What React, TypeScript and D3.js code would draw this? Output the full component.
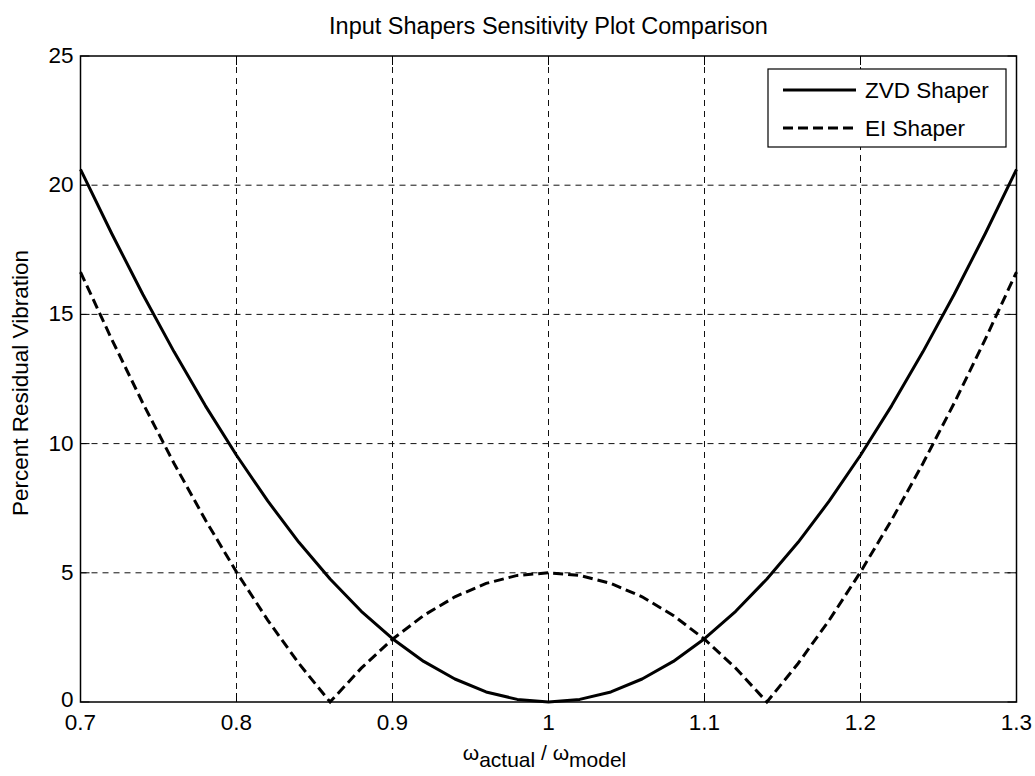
import React from "react";
import * as d3 from "d3";

const ratios = [0.7, 0.72, 0.74, 0.76, 0.78, 0.8, 0.82, 0.84, 0.86, 0.88, 0.9, 0.92, 0.94, 0.96, 0.98, 1.0,
  1.02, 1.04, 1.06, 1.08, 1.1, 1.12, 1.14, 1.16, 1.18, 1.2, 1.22, 1.24, 1.26, 1.28, 1.3];
const zvdValues = [20.61, 18.13, 15.77, 13.55, 11.47, 9.55, 7.78, 6.18, 4.76, 3.51, 2.45, 1.57, 0.89, 0.39, 0.1, 0,
  0.1, 0.39, 0.89, 1.57, 2.45, 3.51, 4.76, 6.18, 7.78, 9.55, 11.47, 13.55, 15.77, 18.13, 20.61];
const eiValues = [16.64, 14.04, 11.56, 9.23, 7.05, 5.03, 3.17, 1.49, 0.0, 1.31, 2.43, 3.35, 4.07, 4.59, 4.9, 5.0,
  4.9, 4.59, 4.07, 3.35, 2.43, 1.31, 0.0, 1.49, 3.17, 5.03, 7.05, 9.23, 11.56, 14.04, 16.64];
const xTicks = [0.7, 0.8, 0.9, 1.0, 1.1, 1.2, 1.3];
const xTickLabels = ["0.7", "0.8", "0.9", "1", "1.1", "1.2", "1.3"];
const yTicks = [0, 5, 10, 15, 20, 25];
const legendLabels = ["ZVD Shaper", "EI Shaper"];
const title = "Input Shapers Sensitivity Plot Comparison";
const yLabel = "Percent Residual Vibration";

export default function App() {
  const W = 1035, H = 776;
  const L = 80.5, R = 1016.5, T = 56, B = 702;
  const x = d3.scaleLinear().domain([0.7, 1.3]).range([L, R]);
  const y = d3.scaleLinear().domain([0, 25]).range([B, T]);
  const line = d3.line<number>().x((_, i) => x(ratios[i])).y((v) => y(v));
  const font = "Arial, 'Liberation Sans', Helvetica, sans-serif";
  const fs = 22.5;
  const tickLen = 9;
  return (
    <svg width={W} height={H} style={{ position: "absolute", left: 0, top: 0, background: "#fff" }} fontFamily={font}>
      <rect x={0} y={0} width={W} height={H} fill="#fff" />
      {/* grid */}
      {xTicks.slice(1, -1).map((t) => (
        <line key={"gx" + t} x1={x(t)} x2={x(t)} y1={T} y2={B} stroke="#111" strokeWidth={1} strokeDasharray="6,5" />
      ))}
      {yTicks.slice(1, -1).map((t) => (
        <line key={"gy" + t} x1={L} x2={R} y1={y(t)} y2={y(t)} stroke="#111" strokeWidth={1} strokeDasharray="6,5" />
      ))}
      {/* ticks */}
      {xTicks.map((t) => (
        <g key={"tx" + t}>
          <line x1={x(t)} x2={x(t)} y1={B} y2={B - tickLen} stroke="#000" />
          <line x1={x(t)} x2={x(t)} y1={T} y2={T + tickLen} stroke="#000" />
        </g>
      ))}
      {yTicks.map((t) => (
        <g key={"ty" + t}>
          <line x1={L} x2={L + tickLen} y1={y(t)} y2={y(t)} stroke="#000" />
          <line x1={R} x2={R - tickLen} y1={y(t)} y2={y(t)} stroke="#000" />
        </g>
      ))}
      {/* curves */}
      <path d={line(zvdValues) || ""} fill="none" stroke="#000" strokeWidth={3} strokeLinejoin="round" />
      <path d={line(eiValues) || ""} fill="none" stroke="#000" strokeWidth={3} strokeDasharray="10,5" />
      {/* border */}
      <rect x={L} y={T} width={R - L} height={B - T} fill="none" stroke="#000" strokeWidth={1.5} />
      {/* tick labels */}
      {xTicks.map((t, i) => (
        <text key={"lx" + t} x={x(t)} y={B + 28} textAnchor="middle" fontSize={fs} fill="#000">{xTickLabels[i]}</text>
      ))}
      {yTicks.map((t) => (
        <text key={"ly" + t} x={L - 7} y={y(t) + (t === 0 ? 5 : 7)} textAnchor="end" fontSize={fs} fill="#000">{t}</text>
      ))}
      {/* title */}
      <text x={(L + R) / 2} y={34} textAnchor="middle" fontSize={23.5} fill="#000">{title}</text>
      {/* y label */}
      <text transform={`translate(28, ${(T + B) / 2 + 4}) rotate(-90)`} textAnchor="middle" fontSize={fs} fill="#000">{yLabel}</text>
      {/* x label */}
      <text x={(L + R) / 2 - 4} y={760} textAnchor="middle" fontSize={21} fill="#000">
        <tspan>ω</tspan>
        <tspan dy={7}>actual</tspan>
        <tspan dy={-7}> / ω</tspan>
        <tspan dy={7}>model</tspan>
      </text>
      {/* legend */}
      <rect x={768} y={69} width={238} height={78} fill="#fff" stroke="#000" strokeWidth={1.2} />
      <line x1={783} x2={856} y1={90} y2={90} stroke="#000" strokeWidth={3} />
      <line x1={783} x2={856} y1={128} y2={128} stroke="#000" strokeWidth={3} strokeDasharray="10,5" />
      <text x={865} y={98} fontSize={fs} fill="#000">{legendLabels[0]}</text>
      <text x={865} y={136} fontSize={fs} fill="#000">{legendLabels[1]}</text>
    </svg>
  );
}
